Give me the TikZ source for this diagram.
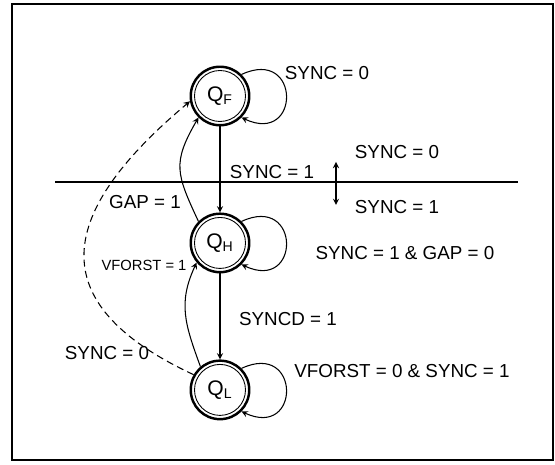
\documentclass[tikz,border=0pt]{standalone}
\usepackage{fontspec}
\setmainfont{Liberation Sans}
\usepackage{tikz}
\usetikzlibrary{positioning}
\tikzstyle{state} = [circle, draw=black, line width=1.4pt, minimum size=1.17cm, inner sep=0pt, font=\large, path picture={\draw[line width=0.5pt] (path picture bounding box.center) circle (0.51cm);}]
\tikzstyle{cond} = [font=\fontsize{10.7}{12}\selectfont, inner sep=1pt]
\tikzstyle{smallcond} = [font=\fontsize{8.4}{10}\selectfont, inner sep=1pt]
\tikzstyle{trans} = [-stealth, line width=0.6pt]

\begin{document}
\begin{tikzpicture}
		\useasboundingbox (0,0) rectangle (11.1,9.3);
		\draw[line width=1.4pt] (0.24,0.10) rectangle (11.06,9.22);
		\node (QF)[state] at (4.40,7.38) {Q\textsubscript{F}};
		\node (QH)[state, below = 1.72cm of QF] {Q\textsubscript{H}};
		\node (QL)[state, below = 1.72cm of QH] {Q\textsubscript{L}};
		% sync boundary
		\draw[line width=0.6pt] (1.10,5.66) -- (10.36,5.66);
		\coordinate (sync up) at (6.72,6.06);
		\coordinate (sync down) at (6.72,5.20);
		\draw[stealth-stealth, line width=0.6pt] (sync down) -- (sync up);
		% transitions
		\draw [trans] (QF) -- (QH);
		\draw [trans] (QH) -- (QL);
		\draw [trans] (QF.45) to[out=25, in=-25, looseness=3.9] (QF.-45);
		\draw [trans] (QH.45) to[out=25, in=-25, looseness=3.9] (QH.-45);
		\draw [trans] (QL.45) to[out=25, in=-25, looseness=3.9] (QL.-45);
		\draw [trans] (QH.135) to[out=115, in=240, looseness=1.3] (QF.225);
		\draw [trans] (QL.130) to[out=110, in=245, looseness=1.1] (QH.220);
		\draw [trans, dash pattern=on 4pt off 2.5pt] (QL.150) to[out=155, in=220, looseness=1.6] (QF.190);
		% conditions
		\node (F stay)[cond] at (6.54,7.84) {SYNC = 0};
		\node (F to H)[cond] at (5.44,5.86) {SYNC = 1};
		\node (above)[cond] at (7.94,6.26) {SYNC = 0};
		\node (below)[cond] at (7.94,5.16) {SYNC = 1};
		\node (H to F)[cond] at (2.90,5.26) {GAP = 1};
		\node (H stay)[cond] at (8.10,4.24) {SYNC = 1 \& GAP = 0};
		\node (L to H)[smallcond] at (2.88,4.00) {VFORST = 1};
		\node (H to L)[cond] at (5.76,2.92) {SYNCD = 1};
		\node (L to F)[cond] at (2.14,2.24) {SYNC = 0};
		\node (L stay)[cond] at (8.04,1.88) {VFORST = 0 \& SYNC = 1};
	\end{tikzpicture}
\end{document}
